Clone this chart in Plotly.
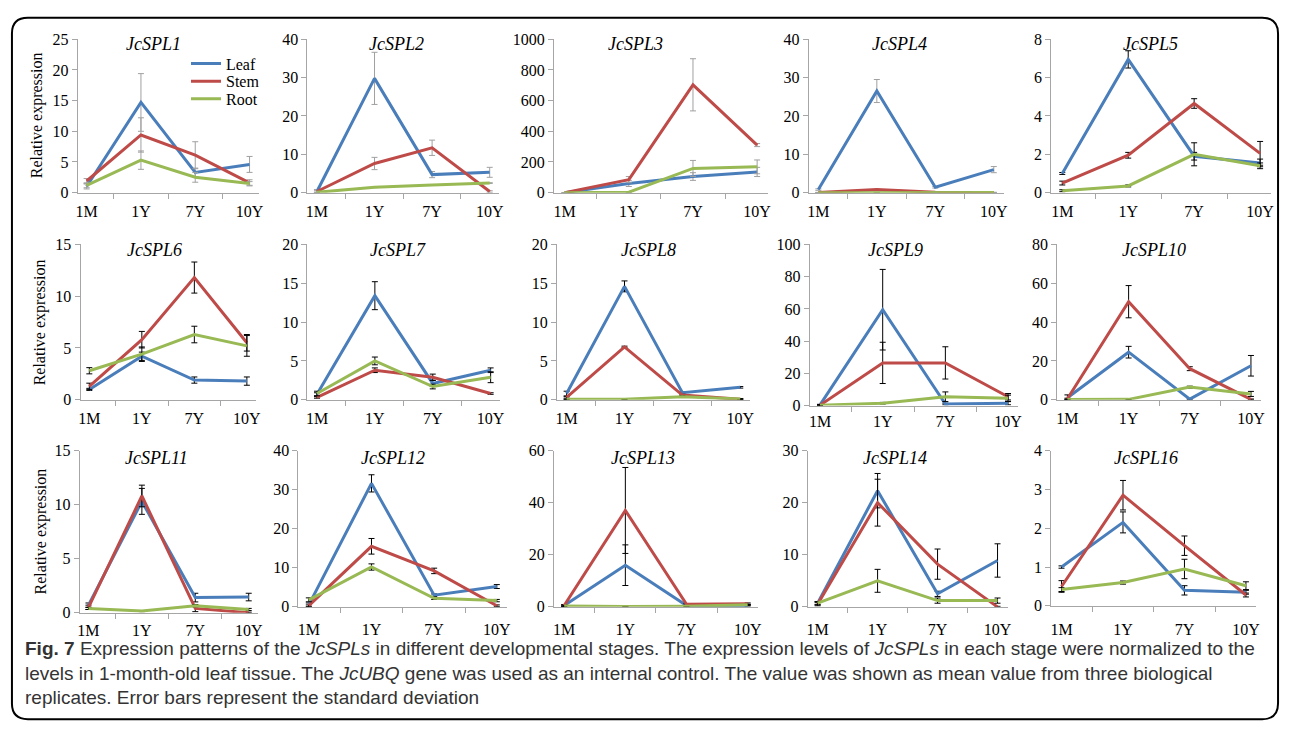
import plotly.graph_objects as go

stages = ['1M', '1Y', '7Y', '10Y']
genes = ['JcSPL1', 'JcSPL2', 'JcSPL3', 'JcSPL4', 'JcSPL5',
         'JcSPL6', 'JcSPL7', 'JcSPL8', 'JcSPL9', 'JcSPL10',
         'JcSPL11', 'JcSPL12', 'JcSPL13', 'JcSPL14', 'JcSPL16']
y_max = [25, 40, 1000, 40, 8, 15, 20, 20, 100, 80, 15, 40, 60, 30, 4]
y_dtick = [5, 10, 200, 10, 2, 5, 5, 5, 20, 20, 5, 10, 20, 10, 1]

leaf_mean = [
    [1.0, 14.7, 3.3, 4.6], [0.3, 29.8, 4.7, 5.3], [0, 60, 105, 135], [0.8, 26.5, 1.4, 6.0],
    [1.0, 6.95, 1.9, 1.55], [1.0, 4.2, 1.9, 1.8], [0.7, 13.4, 2.1, 3.8], [0.8, 14.6, 0.9, 1.6],
    [0.5, 59.5, 1.0, 1.5], [1.0, 24.5, 0.3, 17.5], [0.7, 10.3, 1.4, 1.45], [0.5, 31.6, 3.0, 5.2],
    [0.5, 16, 0.5, 0.5], [0.7, 22.3, 2.5, 8.9], [1.0, 2.15, 0.4, 0.35]]
leaf_sd = [
    [0.4, 4.7, 0.7, 1.3], [0.5, 6.8, 0.8, 1.3], [0, 20, 25, 30], [0.2, 3.0, 0.2, 0.8],
    [0.05, 0.45, 0.2, 0.2], [0.1, 0.4, 0.3, 0.4], [0.2, 1.8, 0.4, 0.3], [0.3, 0.7, 0.1, 0.1],
    [0.3, 25, 0.5, 1.0], [1.5, 3.0, 0.3, 5.3], [0.2, 1.2, 0.4, 0.35], [0.5, 2.2, 0.3, 0.5],
    [0.3, 7.8, 0.2, 0.2], [0.3, 3.3, 0.5, 3.2], [0.03, 0.27, 0.12, 0.05]]
stem_mean = [
    [1.9, 9.4, 6.1, 1.6], [0.3, 7.6, 11.7, 0.3], [0, 85, 703, 310], [0.05, 0.8, 0.1, 0.05],
    [0.5, 1.95, 4.65, 2.05], [1.3, 5.8, 11.8, 5.5], [0.3, 3.8, 2.9, 0.8], [0.3, 6.8, 0.6, 0.05],
    [0.3, 26.5, 26.5, 5.5], [0.5, 50.5, 16, 0.2], [0.5, 10.8, 0.4, 0.0], [0.3, 15.5, 9.2, 0.3],
    [0.5, 37, 1.0, 1.2], [0.5, 20, 8.2, 0.0], [0.5, 2.85, 1.55, 0.28]]
stem_sd = [
    [0.4, 2.8, 2.2, 0.5], [0.3, 1.6, 2.0, 0.2], [0, 20, 170, 10], [0.02, 0.1, 0.05, 0.02],
    [0.1, 0.15, 0.25, 0.62], [0.3, 0.8, 1.5, 0.8], [0.1, 0.3, 0.4, 0.1], [0.1, 0.1, 0.1, 0.05],
    [0.2, 12.8, 10, 2.0], [0.3, 8.3, 1.0, 0.2], [0.2, 1.0, 0.3, 0.05], [0.2, 2.0, 0.7, 0.2],
    [0.3, 16.5, 0.3, 0.3], [0.3, 4.5, 2.9, 0.1], [0.15, 0.38, 0.25, 0.05]]
root_mean = [
    [1.2, 5.3, 2.5, 1.5], [0.1, 1.4, 2.0, 2.5], [0, 3, 158, 168], [0.0, 0.05, 0.05, 0.05],
    [0.1, 0.35, 2.0, 1.4], [2.8, 4.4, 6.3, 5.2], [0.8, 5.0, 1.7, 2.9], [0.05, 0.05, 0.4, 0.1],
    [0.3, 1.5, 5.5, 4.5], [0.1, 0.2, 6.5, 3.0], [0.4, 0.15, 0.65, 0.3], [1.8, 10.2, 2.2, 1.6],
    [0.3, 0.1, 0.2, 0.8], [0.7, 5.0, 1.2, 1.2], [0.42, 0.6, 0.95, 0.52]]
root_sd = [
    [0.4, 1.5, 0.8, 0.3], [0.05, 0.1, 0.1, 0.1], [0, 2, 52, 45], [0, 0, 0, 0],
    [0.05, 0.05, 0.6, 0.15], [0.3, 0.7, 0.8, 1.0], [0.3, 0.5, 0.3, 0.7], [0.02, 0.02, 0.1, 0.05],
    [0.2, 0.5, 3.0, 2.0], [0.1, 0.1, 0.5, 1.3], [0.1, 0.05, 0.1, 0.1], [0.5, 0.8, 0.3, 0.3],
    [0.1, 0.05, 0.1, 0.2], [0.3, 2.2, 0.5, 0.5], [0.05, 0.04, 0.25, 0.1]]

tissues = ['Leaf', 'Stem', 'Root']
colors = ['#4A7EBB', '#BE4B48', '#98B954']
err_colors = ['#A0A0A0'] * 4 + ['#000000'] * 11

W, H = 1292, 737
# panel boxes in pixels (left, right, top, bottom)
boxes = [
    (76, 258, 32, 189), (307, 500, 32, 189), (555, 770, 32, 189), (811, 1007, 32, 189), (1055, 1276, 32, 189),
    (79, 255, 242, 401), (307, 501, 242, 401), (558, 752, 242, 401), (812, 1022, 242, 407), (1061, 1266, 242, 401),
    (78, 257, 453, 619), (298, 508, 453, 613), (555, 760, 453, 613), (810, 1011, 453, 613), (1055, 1261, 453, 612),
]
label_standoff = [4, 4, 4, 4, 4, 4, 4, 4, 1, 4, 3, 8, 8, 8, 9]
title_pos = [(152, 37), (397, 37), (637, 37), (902, 37), (1155, 37),
             (153, 248), (398, 248), (650, 248), (898, 248), (1158, 248),
             (155, 461), (393, 461), (644, 461), (898, 461), (1150, 461)]
legend_pos = [(185, 57), (185, 75), (185, 93)]

def px(x):
    return x / W

def py(y):
    return 1 - y / H

SERIF = 'Liberation Serif'
fig = go.Figure()
layout = {}
for i, g in enumerate(genes):
    n = '' if i == 0 else str(i + 1)
    l, r, t, b = boxes[i]
    means = [leaf_mean[i], stem_mean[i], root_mean[i]]
    sds = [leaf_sd[i], stem_sd[i], root_sd[i]]
    for k in range(3):
        fig.add_trace(go.Scatter(
            x=stages, y=means[k], mode='lines', name=tissues[k],
            line=dict(color=colors[k], width=3),
            error_y=dict(type='data', array=sds[k], visible=True, color=err_colors[i], thickness=1, width=3),
            xaxis='x' + n, yaxis='y' + n, showlegend=(i == 0),
            legend='legend' if k == 0 else 'legend' + str(k + 1)))
    layout['xaxis' + n] = dict(domain=[px(l), px(r)], anchor='y' + n, type='category',
                               categoryorder='array', categoryarray=stages,
                               showline=True, linecolor='#A6A6A6', linewidth=1,
                               ticks='outside', tickson='boundaries', ticklen=5, tickcolor='#A6A6A6',
                               ticklabelstandoff=label_standoff[i],
                               tickfont=dict(family=SERIF, size=16, color='black'),
                               showgrid=False, zeroline=False, fixedrange=True)
    layout['yaxis' + n] = dict(domain=[py(b), py(t)], anchor='x' + n, range=[0, y_max[i]],
                               dtick=y_dtick[i], tick0=0,
                               showline=True, linecolor='#A6A6A6', linewidth=1,
                               ticks='outside', ticklen=5, tickcolor='#A6A6A6',
                               tickfont=dict(family=SERIF, size=16, color='black'),
                               showgrid=False, zeroline=False, fixedrange=True)

for k in range(3):
    lx, ly = legend_pos[k]
    layout['legend' if k == 0 else 'legend' + str(k + 1)] = dict(
        x=px(lx), y=py(ly), xanchor='left', yanchor='middle', bgcolor='rgba(0,0,0,0)',
        font=dict(family=SERIF, size=16, color='black'), itemwidth=30)

annotations = []
for i, g in enumerate(genes):
    tx, ty = title_pos[i]
    annotations.append(dict(x=px(tx), y=py(ty), xref='paper', yref='paper', text='<i>' + g + '</i>',
                            showarrow=False, font=dict(family=SERIF, size=18, color='black'),
                            xanchor='center', yanchor='middle'))
for (yx, yy) in [(36, 110), (38, 322), (39, 536)]:
    annotations.append(dict(x=px(yx), y=py(yy), xref='paper', yref='paper', text='Relative expression',
                            showarrow=False, textangle=-90, font=dict(family=SERIF, size=16, color='black'),
                            xanchor='center', yanchor='middle'))

caption = [
    '<b>Fig. 7</b> Expression patterns of the <i>JcSPLs</i> in different developmental stages. The expression levels of <i>JcSPLs</i> in each stage were normalized to the',
    'levels in 1-month-old leaf tissue. The <i>JcUBQ</i> gene was used as an internal control. The value was shown as mean value from three biological',
    'replicates. Error bars represent the standard deviation',
]
for j, line in enumerate(caption):
    annotations.append(dict(x=px(21), y=py(656 + 25 * j), xref='paper', yref='paper', text=line,
                            showarrow=False, xanchor='left', yanchor='middle',
                            font=dict(family='Liberation Sans', size=19, color='#333333')))

# rounded border
x0, x1, y0, y1, rr = 10, 1283, 10, 728, 16
def P(x, y):
    return f'{px(x):.5f},{py(y):.5f}'
path = (f'M {P(x0 + rr, y0)} L {P(x1 - rr, y0)} Q {P(x1, y0)} {P(x1, y0 + rr)} '
        f'L {P(x1, y1 - rr)} Q {P(x1, y1)} {P(x1 - rr, y1)} L {P(x0 + rr, y1)} '
        f'Q {P(x0, y1)} {P(x0, y1 - rr)} L {P(x0, y0 + rr)} Q {P(x0, y0)} {P(x0 + rr, y0)} Z')
shapes = [dict(type='path', xref='paper', yref='paper', path=path, line=dict(color='black', width=2))]

fig.update_layout(
    width=W, height=H, margin=dict(l=0, r=0, t=0, b=0),
    paper_bgcolor='white', plot_bgcolor='white',
    annotations=annotations, shapes=shapes,
    **layout)

fig.write_html('out.html', config={'displayModeBar': False},
               post_script="document.body.style.margin='0';document.body.style.overflow='hidden';")
